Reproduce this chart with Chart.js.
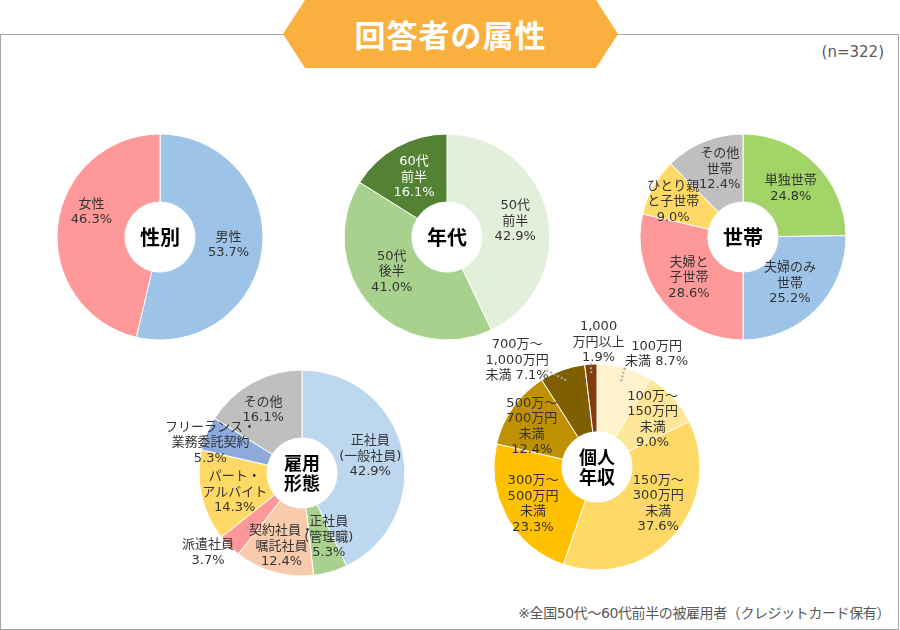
<!DOCTYPE html>
<html><head><meta charset="utf-8">
<script src="https://cdn.jsdelivr.net/npm/chart.js@4"></script>
<style>
html,body{margin:0;padding:0}
body{width:900px;height:630px;position:relative;background:#fff;font-family:"Noto Sans CJK JP","Noto Sans",sans-serif;overflow:hidden}
#frame{position:absolute;left:0;top:34px;width:899px;height:596px;border:1px solid #A6A6A6;box-sizing:border-box}
#banner{position:absolute;left:283px;top:0;width:335px;height:68px;background:#F9B03F;
clip-path:polygon(0 50%,22px 0,313px 0,100% 50%,313px 100%,22px 100%);color:#fff;font-weight:700;font-size:31px;text-align:center;line-height:68px;letter-spacing:1px}
#n{position:absolute;right:16px;top:43px;font-size:15px;color:#595959;font-family:"DejaVu Sans","Noto Sans CJK JP",sans-serif}
#note{position:absolute;right:10px;top:602px;font-size:14px;color:#595959;font-family:"DejaVu Sans","Noto Sans CJK JP",sans-serif;letter-spacing:-0.4px}
canvas{position:absolute}
</style></head>
<body>
<div id="frame"></div>
<div id="banner">回答者の属性</div>
<div id="n">(n=322)</div>
<div id="note">※全国50代～60代前半の被雇用者（クレジットカード保有）</div>
<canvas id="c1" width="300" height="300" style="left:10px;top:87px;width:300px;height:300px"></canvas>
<canvas id="c2" width="300" height="300" style="left:297px;top:87px;width:300px;height:300px"></canvas>
<canvas id="c3" width="300" height="300" style="left:593px;top:87px;width:300px;height:300px"></canvas>
<canvas id="c4" width="300" height="300" style="left:152px;top:323px;width:300px;height:300px"></canvas>
<canvas id="c5" width="300" height="300" style="left:447px;top:317px;width:300px;height:300px"></canvas>
<script>
// ---- data ----
const genderCats = ["男性", "女性"];
const genderVals = [53.7, 46.3];
const ageCats = ["50代前半", "50代後半", "60代前半"];
const ageVals = [42.9, 41.0, 16.1];
const householdCats = ["単独世帯", "夫婦のみ世帯", "夫婦と子世帯", "ひとり親と子世帯", "その他世帯"];
const householdVals = [24.8, 25.2, 28.6, 9.0, 12.4];
const employCats = ["正社員（一般社員）", "正社員（管理職）", "契約社員・嘱託社員", "派遣社員", "パート・アルバイト", "フリーランス・業務委託契約", "その他"];
const employVals = [42.9, 5.3, 12.4, 3.7, 14.3, 5.3, 16.1];
const incomeCats = ["100万円未満", "100万～150万円未満", "150万～300万円未満", "300万～500万円未満", "500万～700万円未満", "700万～1,000万円未満", "1,000万円以上"];
const incomeVals = [8.7, 9.0, 37.6, 23.3, 12.4, 7.1, 1.9];

// ---- label text formats ("|" = line break, {v} = value) ----
const genderFmt = ["男性|{v}", "女性|{v}"];
const ageFmt = ["50代|前半|{v}", "50代|後半|{v}", "60代|前半|{v}"];
const householdFmt = ["単独世帯|{v}", "夫婦のみ|世帯|{v}", "夫婦と|子世帯|{v}", "ひとり親|と子世帯|{v}", "その他|世帯|{v}"];
const employFmt = ["正社員|(一般社員)|{v}", "正社員|(管理職)|{v}", "契約社員・|嘱託社員|{v}", "派遣社員|{v}", "パート・|アルバイト|{v}", "フリーランス・|業務委託契約|{v}", "その他|{v}"];
const incomeFmt = ["100万円|未満 {v}", "100万～|150万円|未満|{v}", "150万～|300万円|未満|{v}", "300万～|500万円|未満|{v}", "500万～|700万円|未満|{v}", "700万～|1,000万円|未満 {v}", "1,000|万円以上|{v}"];

// ---- layout (label radius, nudge dx, dy, leader r1, r2, leader end dx, dy) ----
const genderPos = [[69,0,0],[69,0,-17]];
const agePos = [[70,0,0],[66,-6,-9],[68,0,0]];
const householdPos = [[68,0,0],[66,0,0],[69,0,-2],[80,0,4],[72,4,-1]];
const employPos = [[70,0,-1],[68,8,-1],[75,0,1],[122,-8,-7,76,88],[70,1,4],[97,-2,7],[72,-4,0]];
const incomePos = [[117,28,0,89,105],[70,4,0],[75,5,-13],[72,-1,2],[75,-4,3],[113,-42,0,92,108,-14,5],[125,9,0,94,104]];

const FONT = '"Noto Sans CJK JP","Noto Sans",sans-serif';
const LFONT = '"DejaVu Sans","Noto Sans CJK JP",sans-serif';

const labelPlugin = {
  id: 'sliceLabels',
  afterDraw(chart, args, opts) {
    const ctx = chart.ctx;
    const meta = chart.getDatasetMeta(0);
    const vals = chart.data.datasets[0].data;
    let cx = 0, cy = 0;
    meta.data.forEach((arc, i) => {
      const p = arc.getProps(['x','y','startAngle','endAngle','outerRadius'], true);
      cx = p.x; cy = p.y;
      const mid = (p.startAngle + p.endAngle) / 2;
      const pos = opts.pos[i];
      const lx = p.x + Math.cos(mid) * pos[0] + pos[1];
      const ly = p.y + Math.sin(mid) * pos[0] + pos[2];
      if (pos.length > 3) {
        ctx.save();
        ctx.strokeStyle = '#A9A9A9';
        ctx.lineWidth = 2;
        ctx.setLineDash([2, 2]);
        ctx.beginPath();
        ctx.moveTo(p.x + Math.cos(mid) * pos[3], p.y + Math.sin(mid) * pos[3]);
        ctx.lineTo(p.x + Math.cos(mid) * pos[4] + (pos[5] || 0), p.y + Math.sin(mid) * pos[4] + (pos[6] || 0));
        ctx.stroke();
        ctx.restore();
      }
      const text = opts.fmt[i].replace('{v}', vals[i].toFixed(1) + '%');
      const lines = text.split('|');
      ctx.save();
      ctx.font = '13px ' + LFONT;
      ctx.fillStyle = (opts.white && opts.white[i]) ? '#FFFFFF' : '#333333';
      ctx.textAlign = 'center';
      ctx.textBaseline = 'middle';
      const lh = 15.5;
      lines.forEach((ln, k) => {
        ctx.fillText(ln, lx, ly + (k - (lines.length - 1) / 2) * lh);
      });
      ctx.restore();
    });
    // center title
    const t = opts.center.split('|');
    ctx.save();
    ctx.fillStyle = '#000';
    ctx.textAlign = 'center';
    ctx.textBaseline = 'middle';
    if (t.length === 1) {
      ctx.font = 'bold 20px ' + FONT;
      ctx.fillText(t[0], cx, cy);
    } else {
      ctx.font = 'bold 18px ' + FONT;
      ctx.fillText(t[0], cx, cy - 10);
      ctx.fillText(t[1], cx, cy + 10);
    }
    ctx.restore();
  }
};

function makePie(id, cats, vals, colors, fmt, pos, center, white) {
  new Chart(document.getElementById(id), {
    type: 'doughnut',
    data: {
      labels: cats,
      datasets: [{ data: vals, backgroundColor: colors, borderColor: '#FFFFFF', borderWidth: 1 }]
    },
    options: {
      responsive: false,
      animation: false,
      events: [],
      radius: 103,
      cutout: '34%',
      layout: { padding: 0 },
      plugins: {
        legend: { display: false },
        tooltip: { enabled: false },
        sliceLabels: { fmt: fmt, pos: pos, center: center, white: white }
      }
    },
    plugins: [labelPlugin]
  });
}

makePie('c1', genderCats, genderVals, ['#9DC3E6', '#FF9999'], genderFmt, genderPos, '性別');
makePie('c2', ageCats, ageVals, ['#E2EFDA', '#A9D18E', '#548235'], ageFmt, agePos, '年代', [false, false, true]);
makePie('c3', householdCats, householdVals, ['#A2D468', '#9DC3E6', '#FF9999', '#FFD966', '#BFBFBF'], householdFmt, householdPos, '世帯');
makePie('c4', employCats, employVals, ['#BDD7EE', '#A9D18E', '#F8CBAD', '#FF9999', '#FFD966', '#8EA9DB', '#BFBFBF'], employFmt, employPos, '雇用|形態');
makePie('c5', incomeCats, incomeVals, ['#FFF2CC', '#FFE699', '#FFD966', '#FFC000', '#BF9000', '#7F6000', '#843C0C'], incomeFmt, incomePos, '個人|年収');
</script>
</body></html>
